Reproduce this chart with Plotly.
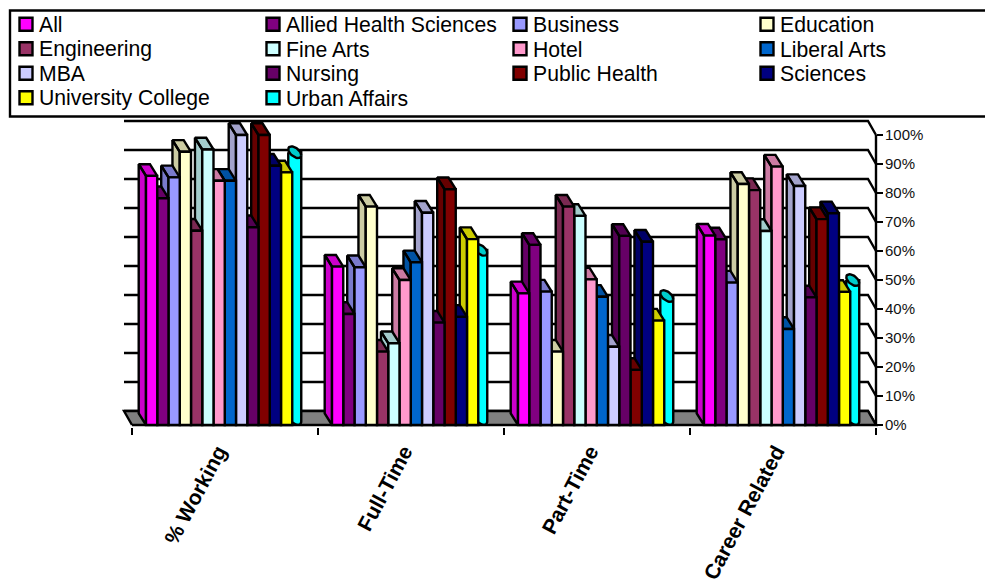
import math
import plotly.graph_objects as go

categories = ["% Working", "Full-Time", "Part-Time", "Career Related"]
series_names = ["All", "Allied Health Sciences", "Business", "Education", "Engineering", "Fine Arts", "Hotel",
                "Liberal Arts", "MBA", "Nursing", "Public Health", "Sciences", "University College", "Urban Affairs"]
colors = ["#FF00FF", "#800080", "#9999FF", "#FFFFCC", "#993366", "#CCFFFF", "#FF99CC",
          "#0066CC", "#CCCCFF", "#660066", "#800000", "#000080", "#FFFF00", "#00FFFF"]
v_all = [85.9, 54.6, 45.4, 65.3]
v_allied = [78.2, 38.3, 62.1, 64.0]
v_business = [85.4, 54.4, 46.0, 49.1]
v_education = [94.2, 75.3, 25.3, 83.1]
v_engineering = [67.0, 25.3, 75.3, 81.0]
v_finearts = [95.0, 28.2, 72.1, 66.9]
v_hotel = [84.2, 50.0, 50.2, 89.1]
v_liberal = [84.2, 56.1, 44.2, 33.1]
v_mba = [100.0, 73.2, 27.0, 82.4]
v_nursing = [68.2, 35.3, 65.2, 44.0]
v_public = [100.0, 81.3, 19.0, 71.0]
v_sciences = [89.4, 37.3, 63.2, 73.0]
v_college = [87.1, 64.1, 36.0, 45.9]
v_urban = [92.0, 58.3, 42.4, 47.9]
series_values = [v_all, v_allied, v_business, v_education, v_engineering, v_finearts, v_hotel,
                 v_liberal, v_mba, v_nursing, v_public, v_sciences, v_college, v_urban]
y_ticks = [0, 10, 20, 30, 40, 50, 60, 70, 80, 90, 100]

# plot frame in pixels
W, H = 985, 579
L, R, T, B = 132, 876, 135, 425
PX = 1 / ((R - L) / len(categories))   # data x per pixel
PY = 100 / (B - T)                     # data y per pixel
BAR_DX, BAR_DY = 7.3 * PX, 11.7 * PY
WALL_DX, WALL_DY = 8 * PX, 14 * PY
BAR_W = 11.25 * PX
BAR_START = 14 * PX
# the drawing subplot is larger than the axes frame so 3-D faces are not clipped
DL, DR, DT, DB = 100, 900, 100, 445
FONT = "Liberation Sans"
INK = "#000000"
LW = 2.4


def shade(hex_color, f=0.8):
    r, g, b = (int(hex_color[i:i + 2], 16) for i in (1, 3, 5))
    return f"rgb({round(r * f)},{round(g * f)},{round(b * f)})"


def pap_x(p):
    return p / W


def pap_y(p):
    return 1 - p / H


fig = go.Figure()
n = len(categories)

# back wall gridlines, with the slanted return to the value axis, and the value-axis line
gx, gy = [n, n, None], [y_ticks[0], y_ticks[-1], None]
for t in y_ticks:
    gx += [-WALL_DX, n - WALL_DX, n, None]
    gy += [t + WALL_DY, t + WALL_DY, t, None]
fig.add_trace(go.Scatter(x=gx, y=gy, mode="lines", line=dict(color=INK, width=LW),
                         showlegend=False, hoverinfo="skip", zorder=0))
# floor
fig.add_trace(go.Scatter(x=[0, n, n - WALL_DX, -WALL_DX, 0], y=[0, 0, WALL_DY, WALL_DY, 0], mode="lines",
                         fill="toself", fillcolor="#808080", line=dict(color=INK, width=LW),
                         showlegend=False, hoverinfo="skip", zorder=1))

count = len(series_names)
for j in range(count - 1, -1, -1):
    name, col, vals = series_names[j], colors[j], series_values[j]
    z = 2 + 3 * (count - 1 - j)
    if j == count - 1:
        # Urban Affairs is drawn as a cylinder
        a, b, k = 6.5 * PX, 5.0 * PY, 3.0 * PY
        angles = [i * math.pi / 18 for i in range(37)]
        for i, v in enumerate(vals):
            cx = i + BAR_START + j * BAR_W + 2.5 * PX
            top = v + 6 * PY
            base = 6 * PY
            lower = [t for t in angles if t <= math.pi]
            bx = [cx - a] + [cx + a * math.cos(t) for t in reversed(lower)] + [cx + a, cx - a]
            by = [top] + [base - b * math.sin(t) - k * math.cos(t) for t in reversed(lower)] + [top, top]
            fig.add_trace(go.Scatter(x=bx, y=by, mode="lines", fill="toself", fillcolor=col,
                                     line=dict(color=INK, width=LW), name=name,
                                     showlegend=False, hoverinfo="skip", zorder=z))
            ex = [cx + a * math.cos(t) for t in angles]
            ey = [top + b * math.sin(t) - k * math.cos(t) for t in angles]
            fig.add_trace(go.Scatter(x=ex, y=ey, mode="lines", fill="toself", fillcolor=shade(col),
                                     line=dict(color=INK, width=LW),
                                     showlegend=False, hoverinfo="skip", zorder=z + 1))
        continue
    # side and top faces
    fx, fy = [], []
    for i, v in enumerate(vals):
        x0 = i + BAR_START + j * BAR_W
        x1 = x0 + BAR_W
        fx += [x0, x0 - BAR_DX, x0 - BAR_DX, x0, x0, None, x0, x0 - BAR_DX, x1 - BAR_DX, x1, x0, None]
        fy += [0, BAR_DY, v + BAR_DY, v, 0, None, v, v + BAR_DY, v + BAR_DY, v, v, None]
    fig.add_trace(go.Scatter(x=fx, y=fy, mode="lines", fill="toself", fillcolor=shade(col),
                             line=dict(color=INK, width=LW),
                             showlegend=False, hoverinfo="skip", zorder=z))
    # front faces
    fig.add_trace(go.Bar(x=[i + 0.5 for i in range(n)], y=vals, name=name,
                         offset=BAR_START + j * BAR_W - 0.5, width=BAR_W,
                         marker=dict(color=col, line=dict(color=INK, width=LW)),
                         showlegend=False, zorder=z + 1))

# invisible trace that carries the visible axes
fig.add_trace(go.Scatter(x=[0, n], y=[0, 100], xaxis="x2", yaxis="y2", mode="markers", marker=dict(opacity=0),
                         showlegend=False, hoverinfo="skip"))

# legend: frame, swatches and labels
shapes = [dict(type="rect", xref="paper", yref="paper", x0=pap_x(10), x1=pap_x(995), y0=pap_y(116.5), y1=pap_y(10.5),
               line=dict(color=INK, width=LW), fillcolor="rgba(0,0,0,0)")]
annotations = []
COL_X = [19, 266, 513, 760]
ROW_Y = [24.2, 48.8, 73.3, 97.8]
for idx, (name, col) in enumerate(zip(series_names, colors)):
    xp, yp = COL_X[idx % 4], ROW_Y[idx // 4]
    shapes.append(dict(type="rect", xref="paper", yref="paper", x0=pap_x(xp + 0.5), x1=pap_x(xp + 13.5),
                       y0=pap_y(yp + 6.5), y1=pap_y(yp - 6.5), fillcolor=col, line=dict(color=INK, width=LW)))
    annotations.append(dict(xref="paper", yref="paper", x=pap_x(xp + 18.5), y=pap_y(yp + 0.5), text=name, showarrow=False,
                            xanchor="left", yanchor="middle", borderpad=0, font=dict(family=FONT, size=21.2, color=INK)))

fig.update_layout(
    width=W, height=H, margin=dict(l=0, r=0, t=0, b=0, autoexpand=False),
    paper_bgcolor="white", plot_bgcolor="rgba(0,0,0,0)", barmode="overlay", showlegend=False,
    font=dict(family=FONT, color=INK),
    shapes=shapes, annotations=annotations,
    xaxis=dict(domain=[pap_x(DL), pap_x(DR)], range=[(DL - L) * PX, (DR - L) * PX], visible=False, anchor="y"),
    yaxis=dict(domain=[pap_y(DB), pap_y(DT)], range=[(B - DB) * PY, (B - DT) * PY], visible=False, anchor="x"),
    xaxis2=dict(domain=[pap_x(L), pap_x(R)], range=[0, n], anchor="y2",
                tickmode="array", tickvals=[i + 0.5 - 7 * PX for i in range(n)], ticktext=categories,
                tickangle=-62, ticks="", showgrid=False, zeroline=False, showline=True, linecolor=INK, linewidth=3,
                tickfont=dict(family=FONT, size=21, color=INK, weight="bold"), ticklabelstandoff=3,
                automargin=False,
                minor=dict(tickmode="array", tickvals=list(range(n + 1)), ticks="outside", ticklen=7, tickwidth=2,
                           tickcolor=INK, showgrid=False)),
    yaxis2=dict(domain=[pap_y(B), pap_y(T)], range=[0, 100], side="right", anchor="x2",
                tickmode="array", tickvals=y_ticks, ticktext=[f"{t}%" for t in y_ticks],
                ticks="outside", ticklen=6, tickwidth=2, tickcolor=INK, showgrid=False, zeroline=False,
                showline=False, ticklabelstandoff=-1,
                tickfont=dict(family=FONT, size=15, color="#111111"), automargin=False),
)

fig.write_html("out.html", post_script="document.body.style.margin='0';", config={"displayModeBar": False})
